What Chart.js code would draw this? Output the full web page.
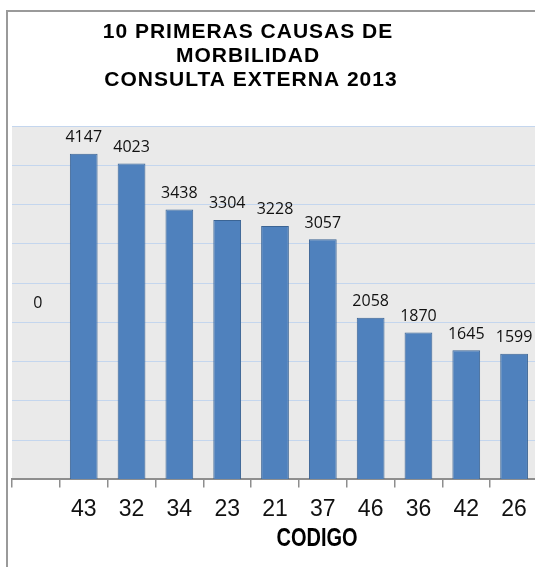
<!DOCTYPE html>
<html>
<head>
<meta charset="utf-8">
<script src="https://cdn.jsdelivr.net/npm/chart.js@4/dist/chart.umd.min.js"></script>
<style>
  html, body { margin: 0; padding: 0; background: #fff; overflow: hidden; }
  body { width: 535px; height: 567px; position: relative; }
  #chart { position: absolute; left: 0; top: 0; }
</style>
</head>
<body>
<canvas id="chart" width="538" height="567"></canvas>
<script>
// 10 primeras causas de morbilidad - consulta externa 2013
const CATEGORIES = ['', '43', '32', '34', '23', '21', '37', '46', '36', '42', '26'];
const CASES = [0, 4147, 4023, 3438, 3304, 3228, 3057, 2058, 1870, 1645, 1599];
const TITLE_LINES = ['10 PRIMERAS CAUSAS DE', 'MORBILIDAD', 'CONSULTA EXTERNA 2013'];
const AXIS_TITLE = 'CODIGO';
const Y_MAX = 4500;
const Y_STEP = 500;

const SANS = "'Liberation Sans', Arial, sans-serif";
const LABEL_FONT = "'Open Sans', 'Noto Sans', sans-serif";

// chart frame (left + top edge) and grey plot background
const plotBg = {
  id: 'plotBg',
  beforeDraw(chart) {
    const { ctx, chartArea: a, width, height } = chart;
    ctx.save();
    ctx.strokeStyle = '#9a9a9a';
    ctx.lineWidth = 2;
    ctx.beginPath();
    ctx.moveTo(7, height);
    ctx.lineTo(7, 11);
    ctx.lineTo(width, 11);
    ctx.stroke();
    ctx.fillStyle = '#eaeaea';
    ctx.fillRect(a.left, a.top, a.right - a.left, a.bottom - a.top);
    ctx.restore();
  },
};

// value labels over the bars
const valueLabels = {
  id: 'valueLabels',
  afterDatasetsDraw(chart) {
    const { ctx, chartArea: a } = chart;
    const meta = chart.getDatasetMeta(0);
    ctx.save();
    ctx.font = `16px ${LABEL_FONT}`;
    ctx.fillStyle = '#111';
    ctx.textAlign = 'center';
    ctx.textBaseline = 'alphabetic';
    meta.data.forEach((bar, i) => {
      const v = CASES[i];
      if (v > 0) ctx.fillText(String(v), bar.x, bar.y - 11.5);
      else ctx.fillText(String(v), bar.x + 2, (a.top + a.bottom) / 2 + 5);
    });
    ctx.restore();
  },
};

// title block and axis caption
const captions = {
  id: 'captions',
  afterDraw(chart) {
    const { ctx, chartArea: a } = chart;
    ctx.save();
    ctx.fillStyle = '#000';
    ctx.textAlign = 'center';
    ctx.textBaseline = 'alphabetic';
    ctx.font = `bold 21px ${SANS}`;
    if ('letterSpacing' in ctx) ctx.letterSpacing = '1px';
    const cx = a.left + 236;
    TITLE_LINES.forEach((line, i) => ctx.fillText(line, cx + (i === 2 ? 3 : 0), 37.5 + i * 24.3));
    if ('letterSpacing' in ctx) ctx.letterSpacing = '0px';
    // narrow bold caption, squeezed like Arial Narrow
    ctx.font = `bold 25px ${SANS}`;
    ctx.textBaseline = 'middle';
    ctx.translate(a.left + 305, a.bottom + 60);
    ctx.scale(0.8, 1);
    ctx.fillText(AXIS_TITLE, 0, 0);
    ctx.restore();
  },
};

new Chart(document.getElementById('chart'), {
  type: 'bar',
  data: {
    labels: CATEGORIES,
    datasets: [{
      data: CASES,
      backgroundColor: '#4f81bd',
      borderColor: '#3b6494',
      borderWidth: 1,
      barPercentage: 0.58,
      categoryPercentage: 1,
    }],
  },
  options: {
    responsive: false,
    animation: false,
    devicePixelRatio: 1,
    layout: { padding: { left: 12, right: 0, top: 126, bottom: 36 } },
    plugins: { legend: { display: false }, tooltip: { enabled: false }, title: { display: false } },
    scales: {
      x: {
        grid: { drawOnChartArea: false, drawTicks: true, tickLength: 8, color: '#8e8e8e', lineWidth: 1.5 },
        border: { display: true, color: '#8e8e8e', width: 2 },
        ticks: { color: '#111', font: { family: SANS, size: 23 }, padding: 8, maxRotation: 0, autoSkip: false },
      },
      y: {
        min: 0, max: Y_MAX,
        grid: { drawTicks: false, color: (c) => c.tick && c.tick.value === 0 ? 'rgba(0,0,0,0)' : '#c4d6ee', lineWidth: 1 },
        border: { display: false },
        ticks: { display: false, stepSize: Y_STEP },
      },
    },
  },
  plugins: [plotBg, valueLabels, captions],
});
</script>
</body>
</html>
